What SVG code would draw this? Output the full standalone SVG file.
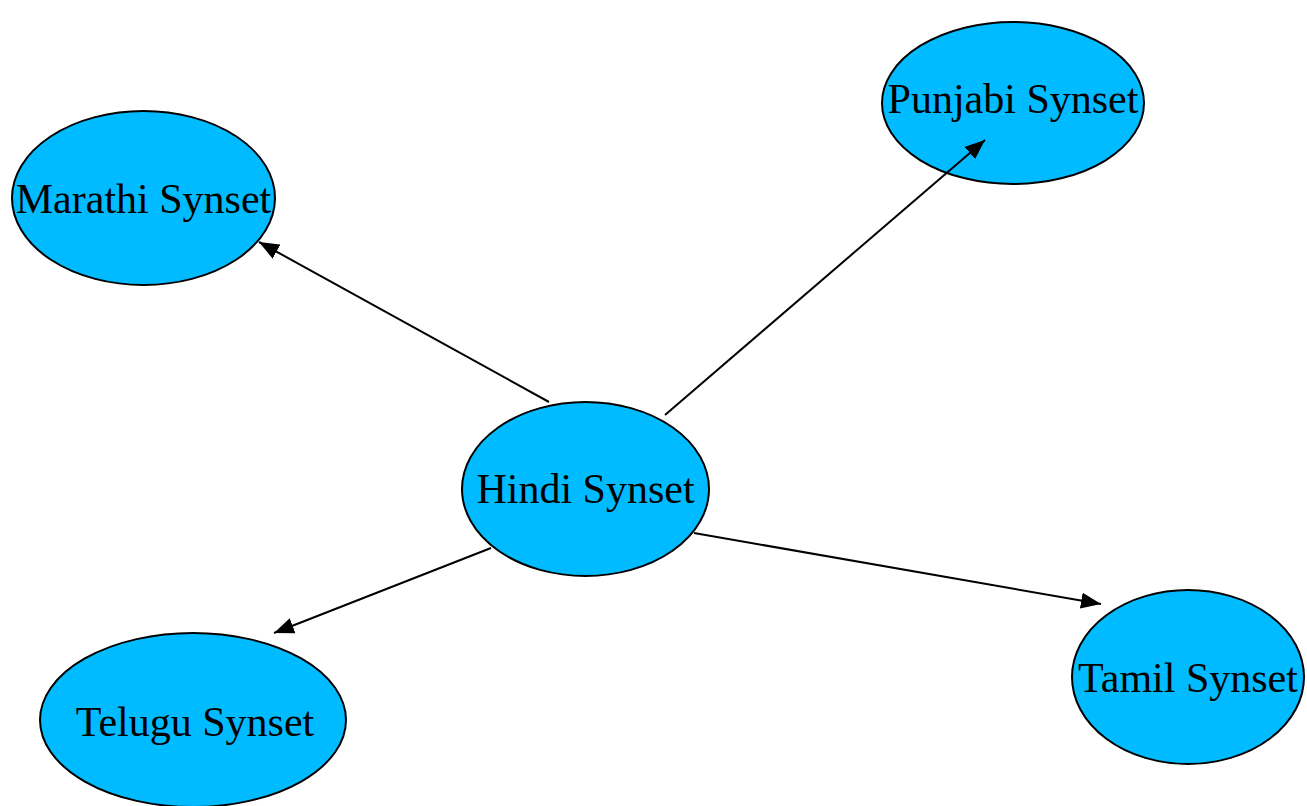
<svg xmlns="http://www.w3.org/2000/svg" width="1307" height="806" viewBox="0 0 1307 806">
  <style>
    .node ellipse { fill: #00bbff; stroke: #000; stroke-width: 2; }
    .node text { font-family: "Liberation Serif", "Times New Roman", serif; font-size: 42px; fill: #000; text-anchor: middle; }
    .edge { stroke: #000; stroke-width: 2; fill: none; marker-end: url(#arrow); }
  </style>
  <defs>
    <marker id="arrow" markerWidth="20" markerHeight="16" refX="20" refY="8" orient="auto" markerUnits="userSpaceOnUse">
      <path d="M0,0 L20,8 L0,16 Z" fill="#000"/>
    </marker>
  </defs>
  <rect width="1307" height="806" fill="#fff"/>

  <g id="marathi" class="node">
    <ellipse cx="143.5" cy="198" rx="131.5" ry="87"/>
    <text x="143.5" y="213">Marathi Synset</text>
  </g>
  <g id="punjabi" class="node">
    <ellipse cx="1013" cy="103" rx="131" ry="81"/>
    <text x="1013" y="113">Punjabi Synset</text>
  </g>
  <g id="hindi" class="node">
    <ellipse cx="585.5" cy="489" rx="123.5" ry="87"/>
    <text x="585.5" y="503">Hindi Synset</text>
  </g>
  <g id="tamil" class="node">
    <ellipse cx="1188" cy="677" rx="116" ry="87"/>
    <text x="1188" y="692">Tamil Synset</text>
  </g>
  <g id="telugu" class="node">
    <ellipse cx="193" cy="720" rx="153" ry="87"/>
    <text x="195" y="736">Telugu Synset</text>
  </g>

  <!-- links from the Hindi synset to the other languages, drawn over the nodes -->
  <g id="connectors">
    <line class="edge" x1="549" y1="402" x2="259" y2="242"/>
    <line class="edge" x1="665" y1="415" x2="985" y2="140"/>
    <line class="edge" x1="694" y1="533" x2="1101" y2="604"/>
    <line class="edge" x1="491" y1="548" x2="274" y2="633"/>
  </g>
</svg>
